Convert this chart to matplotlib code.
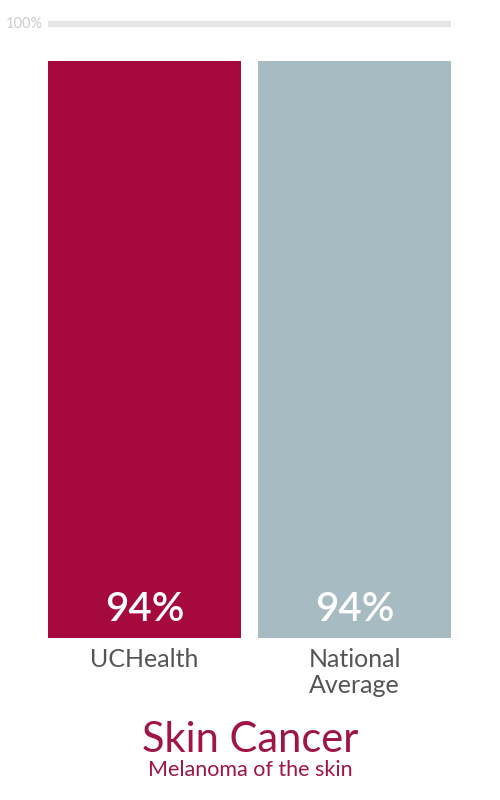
import matplotlib
matplotlib.use("Agg")
from matplotlib import pyplot as plt

categories = ["UCHealth", "National\nAverage"]
values = [94, 94]
bar_colors = ["#a6093d", "#a7bcc2"]
title = "Skin Cancer"
subtitle = "Melanoma of the skin"

plt.rcParams["font.family"] = ["Lato", "DejaVu Sans"]

fig = plt.figure(figsize=(5, 8), dpi=100)
ax = fig.add_axes([0.096, 0.2025, 0.806, 0.7675])

w = 0.919
x = list(range(len(values)))
ax.bar(x, values, width=w, color=bar_colors)
ax.set_xlim(-w / 2, len(values) - 1 + w / 2)
ax.set_ylim(0, 100)

# reference line at 100%
ax.axhline(100, color="#e6e6e6", linewidth=4.5, clip_on=False,
           solid_capstyle="butt")
ax.text(-w / 2 - 0.025, 100, "100%", ha="right", va="center",
        fontsize=10.5, color="#cccccc")

for xi, v in zip(x, values):
    ax.text(xi, 4.6, f"{v}%", ha="center", va="center", fontsize=29,
            color="white", fontweight="semibold")

for xi, lab in zip(x, categories):
    ax.text(xi, -1.6, lab, ha="center", va="top", fontsize=18,
            color="#555555", linespacing=1.17)

for s in ax.spines.values():
    s.set_visible(False)
ax.set_xticks([])
ax.set_yticks([])

fig.text(0.5, 0.0755, title, ha="center", va="center", fontsize=30,
         color="#a01545")
fig.text(0.5, 0.038, subtitle, ha="center", va="center", fontsize=15.5,
         color="#a01545")

fig.savefig("out.png", dpi=100)
